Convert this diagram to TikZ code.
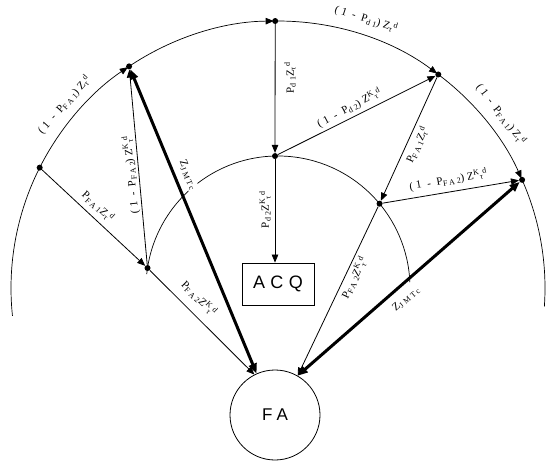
\documentclass[tikz,border=0pt]{standalone}
\usepackage{fontspec}
\usetikzlibrary{calc,arrows.meta}
\newfontfamily\lblfont[LetterSpace=28]{Liberation Serif}
\newfontfamily\boxfont[LetterSpace=30]{Liberation Sans}
\newcommand{\lblo}[1]{\raisebox{-0.35ex}{\lblfont\fontsize{8}{9}\selectfont #1}}
\newcommand{\lbhi}[1]{\raisebox{0.75ex}{\lblfont\fontsize{8}{9}\selectfont #1}}
\newcommand{\Ztd}{Z\lblo{τ}\lbhi{d}}
\newcommand{\ZKtd}{Z\lbhi{K}\lblo{τ}\lbhi{d}}
\begin{document}
\begin{tikzpicture}[x=1pt,y=1pt,
  dot/.style={circle,fill=black,inner sep=0pt,minimum size=6pt},
  tip/.style={-{Triangle[length=8pt,width=6.5pt]}},
  thin/.style={line width=0.8pt},
  arcline/.style={line width=0.7pt},
  heavy/.style={{Triangle[length=10pt,width=8pt]}-{Triangle[length=10pt,width=8pt]}, line width=3pt},
  lbl/.style={font=\lblfont\fontsize{11}{13}\selectfont, inner sep=1pt},
]
\useasboundingbox (0,0) rectangle (546,461);
\coordinate (C) at (278,173);
% outer and inner arcs
\draw[arcline] ($(C)+(186:267)$) arc[start angle=186,end angle=153.2,radius=267];
\draw[arcline] ($(C)+(23.9:267)$) arc[start angle=23.9,end angle=-4,radius=267];
\draw[arcline] ($(C)+(174:132)$) arc[start angle=174,end angle=2.5,radius=132];
% dots
\node[dot] (oL)  at ($(C)+(153.2:267)$) {};
\node[dot] (oUL) at ($(C)+(123.9:267)$) {};
\node[dot] (oT)  at ($(C)+(90.6:267)$) {};
\node[dot] (oR)  at ($(C)+(53.1:267)$) {};
\node[dot] (oFR) at ($(C)+(23.9:267)$) {};
\node[dot] (iT)  at ($(C)+(91.3:132)$) {};
\node[dot] (iL)  at ($(C)+(171.3:132)$) {};
\node[dot] (iR)  at ($(C)+(39.7:132)$) {};
% boxes
\node[draw,circle,minimum size=90pt,line width=0.8pt,font=\boxfont\fontsize{17}{19}\selectfont] (FA) at (275,46) {FA};
\node[draw,minimum width=72pt,minimum height=42pt,line width=0.8pt,font=\boxfont\fontsize{18}{20}\selectfont] (ACQ) at (278,177) {ACQ};
% arcs between outer nodes
\draw[arcline,tip,shorten >=1.5pt] (oL.center) arc[start angle=153.2,end angle=123.9,radius=267];
\draw[arcline,tip,shorten >=1.5pt] (oUL.center) arc[start angle=123.9,end angle=90.6,radius=267];
\draw[arcline,tip,shorten >=1.5pt] (oT.center) arc[start angle=90.6,end angle=53.1,radius=267];
\draw[arcline,tip,shorten >=1.5pt] (oR.center) arc[start angle=53.1,end angle=23.9,radius=267];
% labels
\node[lbl,rotate=48] (l1) at (64,356) {(1 - P\lblo{FA1})\Ztd};
\node[lbl,rotate=-18] (l2) at (366,442) {(1 - P\lblo{d1})\Ztd};
\node[lbl,rotate=-52] (l3) at (501,347) {(1 - P\lblo{FA1})\Ztd};
\node[lbl,rotate=90] (l4) at (290,383) {P\lblo{d1}\Ztd};
\node[lbl,rotate=90] (l5) at (265,251) {P\lblo{d2}\ZKtd};
\node[lbl,rotate=-42.8] (l6) at (98,255) {P\lblo{FA1}\Ztd};
\node[lbl,rotate=95.6] (l7) at (131,286) {(1 - P\lblo{FA2})\ZKtd};
\node[lbl,rotate=-67.8,fill=white] (l8) at (188,286) {Z\lblo{JMTc}};
\node[lbl,rotate=-44.7] (l9) at (199,163) {P\lblo{FA2}\ZKtd};
\node[lbl,rotate=27.5] (l10) at (349,353) {(1 - P\lblo{d2})\ZKtd};
\node[lbl,rotate=65.2] (l11) at (417,316) {P\lblo{FA1}\Ztd};
\node[lbl,rotate=9.8] (l12) at (448,281) {(1 - P\lblo{FA2})\ZKtd};
\node[lbl,rotate=64.1] (l13) at (354,183) {P\lblo{FA2}\ZKtd};
\node[lbl,rotate=41.2] (l14) at (406,162) {Z\lblo{JMTc}};
% straight connectors
\draw[thin,tip] (oT) -- (iT);
\draw[thin,tip] (iT) -- (iT |- ACQ.north);
\draw[thin,tip] (oL) -- (iL);
\draw[thin,tip] (iL) -- (oUL);
\draw[thin,tip] (iL) -- (FA.117);
\draw[thin,tip] (iT) -- (oR);
\draw[thin,tip] (oR) -- (iR);
\draw[thin,tip] (iR) -- (oFR);
\draw[thin,tip] (iR) -- (FA.60);
\draw[heavy] (oUL) -- (FA.114);
\draw[heavy] (FA.60) -- (oFR);
\end{tikzpicture}
\end{document}
